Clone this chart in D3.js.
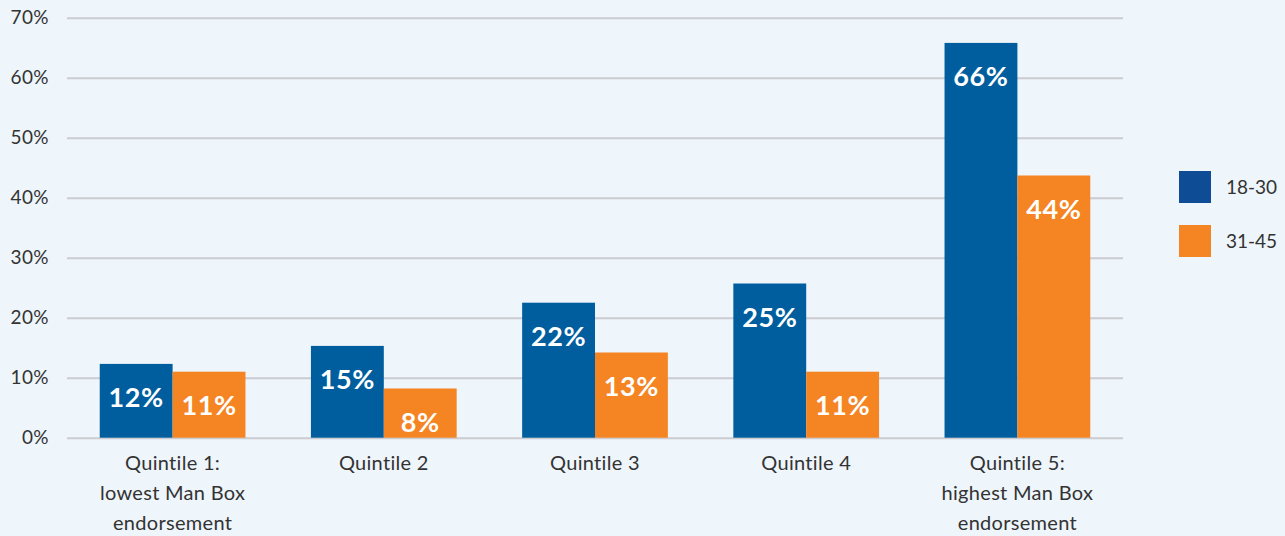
<!DOCTYPE html>
<html>
<head>
<meta charset="utf-8">
<script src="https://cdn.jsdelivr.net/npm/d3@7"></script>
<style>
  body { margin: 0; background: #eef5fb; }
  svg { display: block; }
</style>
</head>
<body>
<div id="chart"></div>
<script>
// data
let categories = [
  ["Quintile 1:", "lowest Man Box", "endorsement"],
  ["Quintile 2"],
  ["Quintile 3"],
  ["Quintile 4"],
  ["Quintile 5:", "highest Man Box", "endorsement"]
]
let seriesNames = ["18-30", "31-45"]
let young = [12.3, 15.3, 22.5, 25.7, 65.8]
let older = [11.0, 8.2, 14.2, 11.0, 43.7]
let youngLabels = ["12%", "15%", "22%", "25%", "66%"]
let olderLabels = ["11%", "8%", "13%", "11%", "44%"]
let yTicks = [0, 10, 20, 30, 40, 50, 60, 70]

let barColors = ["#005e9e", "#f58423"]
let legendColors = ["#0f4c96", "#f58423"]

let width = 1285, height = 536
let font = "Lato, 'Open Sans', sans-serif"

let svg = d3.select("#chart")
  .append("svg")
  .attr("width", width)
  .attr("height", height)

svg.append("rect")
  .attr("width", width)
  .attr("height", height)
  .attr("fill", "#eef5fb")

// scales
let x = d3.scaleBand()
  .domain(d3.range(categories.length))
  .range([67, 1123])
  .paddingInner(0.31)
  .paddingOuter(0.155)

let x1 = d3.scaleBand()
  .domain([0, 1])
  .range([0, x.bandwidth()])

let y = d3.scaleLinear()
  .domain([0, 70])
  .range([437.7, 17.7])

// gridlines + y labels
let yAxis = svg.append("g")
  .attr("transform", "translate(67,0)")
  .call(d3.axisLeft(y)
    .tickValues(yTicks)
    .tickSize(-(1123 - 67))
    .tickPadding(18)
    .tickFormat(d => d + "%"))

yAxis.select(".domain").remove()
yAxis.selectAll("line")
  .attr("stroke", "#cbcbd0")
  .attr("stroke-width", 2)
yAxis.selectAll("text")
  .attr("fill", "#333")
  .style("font-family", font)
  .style("font-size", "19px")
  .style("letter-spacing", "0.4px")

// bars
let rows = categories.map((c, i) => ({
  i: i,
  vals: [young[i], older[i]],
  labels: [youngLabels[i], olderLabels[i]]
}))

let groups = svg.selectAll(".grp")
  .data(rows)
  .enter()
  .append("g")
  .attr("transform", d => "translate(" + x(d.i) + ",0)")

groups.selectAll("rect")
  .data(d => d.vals.map((v, s) => ({ s: s, v: v, label: d.labels[s] })))
  .enter()
  .append("rect")
    .attr("x", d => x1(d.s))
    .attr("y", d => y(d.v))
    .attr("width", x1.bandwidth())
    .attr("height", d => y(0) - y(d.v))
    .attr("fill", d => barColors[d.s])

groups.selectAll(".val")
  .data(d => d.vals.map((v, s) => ({ s: s, v: v, label: d.labels[s] })))
  .enter()
  .append("text")
    .attr("class", "val")
    .attr("x", d => x1(d.s) + x1.bandwidth() / 2)
    .attr("y", d => y(d.v) + 43)
    .attr("text-anchor", "middle")
    .attr("fill", "#fff")
    .style("font-family", font)
    .style("font-weight", "bold")
    .style("font-size", "27px")
    .style("letter-spacing", "0.6px")
    .text(d => d.label)

// category labels
let cat = svg.selectAll(".cat")
  .data(rows)
  .enter()
  .append("text")
    .attr("class", "cat")
    .attr("text-anchor", "middle")
    .attr("fill", "#333")
    .style("font-family", font)
    .style("font-size", "20px")
    .style("letter-spacing", "0.3px")

cat.selectAll("tspan")
  .data(d => categories[d.i].map(t => ({ t: t, c: x(d.i) + x.bandwidth() / 2 })))
  .enter()
  .append("tspan")
    .attr("x", d => d.c)
    .attr("y", (d, k) => 470 + k * 30)
    .text(d => d.t)

// legend
let legend = svg.selectAll(".leg")
  .data(seriesNames)
  .enter()
  .append("g")
  .attr("transform", (d, i) => "translate(1179," + (171 + i * 54) + ")")

legend.append("rect")
  .attr("width", 32)
  .attr("height", 32)
  .attr("fill", (d, i) => legendColors[i])

legend.append("text")
  .attr("x", 47)
  .attr("y", 23)
  .attr("fill", "#333")
  .style("font-family", font)
  .style("font-size", "19px")
  .text(d => d)
</script>
</body>
</html>
